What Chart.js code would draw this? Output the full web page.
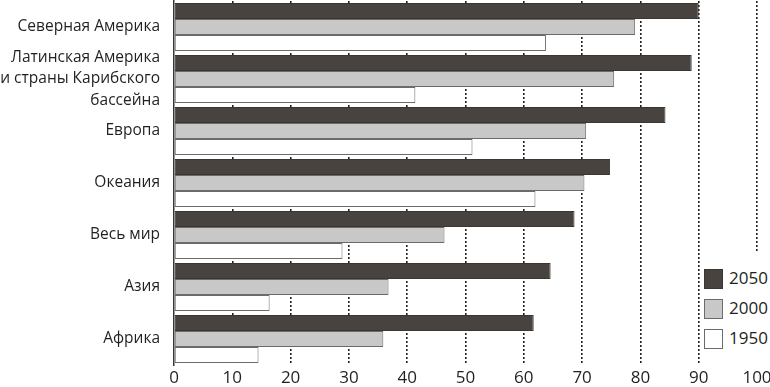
<!DOCTYPE html>
<html>
<head>
<meta charset="utf-8">
<script src="https://cdn.jsdelivr.net/npm/chart.js@4"></script>
<style>
	html, body { margin: 0; padding: 0; background: #fff; }
	#wrap { position: relative; width: 770px; height: 387px; }
	#legend {
		position: absolute; left: 702px; top: 252px; width: 68px; height: 112px;
		background: #fff; font-family: "Open Sans", sans-serif; font-size: 17px; color: #231f20;
	}
	#legend .item { position: absolute; left: 2px; height: 20px; line-height: 20px; }
	#legend .box { display: inline-block; width: 19px; height: 20px; box-sizing: border-box; vertical-align: middle; margin-right: 6px; }
</style>
</head>
<body>
<div id="wrap">
	<canvas id="myChart" width="770" height="387"></canvas>
	<div id="legend"></div>
</div>
<script>
const regions = [
	"Северная Америка",
	["Латинская Америка", "и страны Карибского", "бассейна"],
	"Европа",
	"Океания",
	"Весь мир",
	"Азия",
	"Африка"
];
const years = ["2050", "2000", "1950"];
const values2050 = [90, 88.8, 84.3, 74.8, 68.7, 64.6, 61.7];
const values2000 = [79.1, 75.5, 70.7, 70.4, 46.4, 36.8, 35.9];
const values1950 = [63.8, 41.4, 51.2, 62.0, 28.9, 16.4, 14.5];
const xTicks = [0, 10, 20, 30, 40, 50, 60, 70, 80, 90, 100];

const fills = ["#48433e", "#c8c8c8", "#ffffff"];
const borders = ["#3a3632", "#6b6b6b", "#6b6b6b"];
const textColor = "#231f20";

function bars(label, data, i) {
	return {
		label,
		data,
		backgroundColor: fills[i],
		borderColor: borders[i],
		borderWidth: 1,
		borderSkipped: false,
		barPercentage: 1,
		categoryPercentage: 48 / 52
	};
}

const datasets = [
	bars(years[0], values2050, 0),
	bars(years[1], values2000, 1),
	bars(years[2], values1950, 2)
];

const ctx = document.getElementById("myChart").getContext("2d");
new Chart(ctx, {
	type: "bar",
	data: { labels: regions, datasets },
	options: {
		indexAxis: "y",
		responsive: false,
		animation: false,
		layout: { padding: { top: 1, right: 13, left: 0, bottom: 0 } },
		plugins: {
			legend: { display: false },
			tooltip: { enabled: false }
		},
		scales: {
			x: {
				min: 0,
				max: 100,
				afterBuildTicks: scale => { scale.ticks = xTicks.map(v => ({ value: v })); },
				afterFit: scale => {
					scale.height = 22;
					scale.paddingLeft = 0;
					scale.paddingRight = 0;
				},
				border: { display: false, dash: [2, 2] },
				grid: {
					color: ctx => ctx.tick && ctx.tick.value === 0 ? "rgba(0,0,0,0)" : "#231f20",
					lineWidth: 1.6,
					drawTicks: false
				},
				ticks: {
					color: textColor,
					padding: 3,
					maxRotation: 0,
					autoSkip: false,
					font: { family: "Open Sans", size: 17 }
				}
			},
			y: {
				afterFit: scale => {
					scale.width = 174;
					scale.paddingTop = 0;
					scale.paddingBottom = 0;
				},
				border: { display: true, color: "#3a3632", width: 1.5 },
				grid: { display: false },
				ticks: {
					color: textColor,
					padding: 6,
					autoSkip: false,
					font: { family: "Open Sans", size: 15.5, lineHeight: 1.38 }
				}
			}
		}
	}
});

// legend built from the same series
const legend = document.getElementById("legend");
years.forEach((year, i) => {
	const item = document.createElement("div");
	item.className = "item";
	item.style.top = (16 + i * 30) + "px";
	item.innerHTML = `<span class="box" style="background:${fills[i]};border:1px solid ${borders[i]}"></span>${year}`;
	legend.appendChild(item);
});
</script>
</body>
</html>
